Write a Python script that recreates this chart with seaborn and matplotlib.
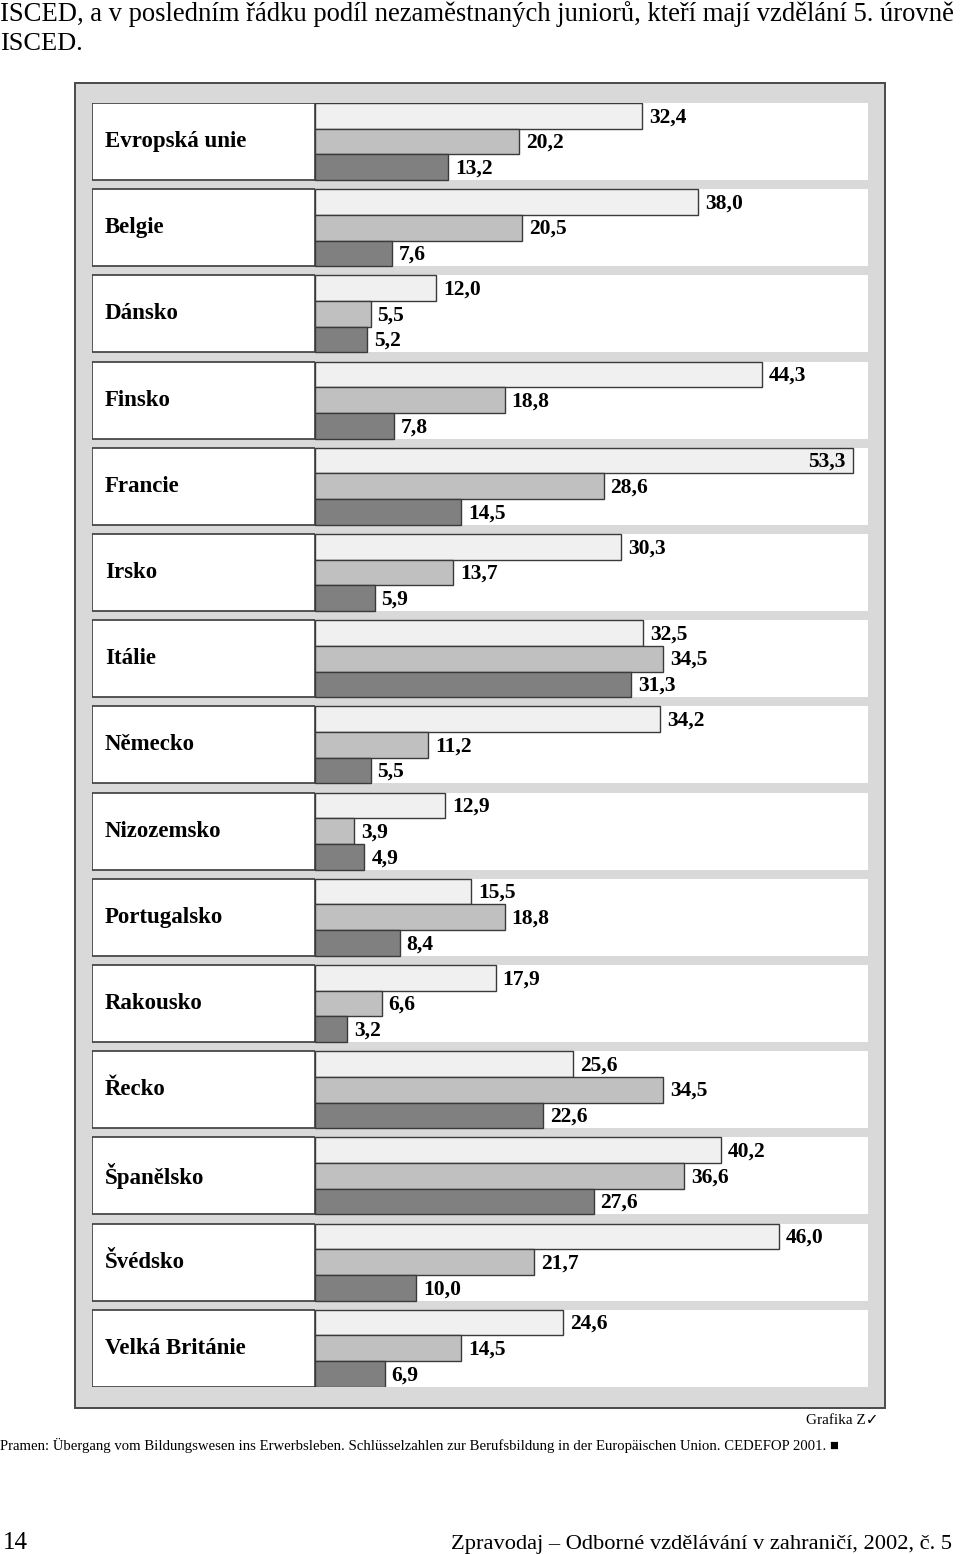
import matplotlib
matplotlib.use("Agg")
import matplotlib.pyplot as plt
from matplotlib.patches import Rectangle
import seaborn as sns
import pandas as pd

countries = ["Evropská unie", "Belgie", "Dánsko", "Finsko", "Francie", "Irsko",
             "Itálie", "Německo", "Nizozemsko", "Portugalsko", "Rakousko",
             "Řecko", "Španělsko", "Švédsko", "Velká Británie"]
series = ["ISCED 0-2", "ISCED 3", "ISCED 5"]
isced_02 = [32.4, 38.0, 12.0, 44.3, 53.3, 30.3, 32.5, 34.2, 12.9, 15.5, 17.9, 25.6, 40.2, 46.0, 24.6]
isced_3 = [20.2, 20.5, 5.5, 18.8, 28.6, 13.7, 34.5, 11.2, 3.9, 18.8, 6.6, 34.5, 36.6, 21.7, 14.5]
isced_5 = [13.2, 7.6, 5.2, 7.8, 14.5, 5.9, 31.3, 5.5, 4.9, 8.4, 3.2, 22.6, 27.6, 10.0, 6.9]

bar_colors = ["#f0f0f0", "#c0c0c0", "#808080"]
frame_gray = "#d9d9d9"
edge = "#3a3a3a"
SERIF = ["Liberation Serif", "DejaVu Serif", "DejaVu Sans"]

df = pd.DataFrame({
    "country": countries * 3,
    "series": [series[0]] * len(countries) + [series[1]] * len(countries) + [series[2]] * len(countries),
    "value": isced_02 + isced_3 + isced_5,
})

sns.set_theme(style="white")
plt.rcParams["font.family"] = SERIF

W, H = 960, 1554
fig = plt.figure(figsize=(W / 100, H / 100), dpi=100)
fig.patch.set_facecolor("white")

def fx(px):
    return px / W

def fy(py):
    return 1 - py / H

# outer gray frame
fig.add_artist(Rectangle((fx(75), fy(1408)), fx(885) - fx(75), fy(83) - fy(1408),
                         transform=fig.transFigure, facecolor=frame_gray,
                         edgecolor="#4a4a4a", linewidth=1.4, zorder=-5))

row_frac = 0.8933
ax_top, ax_bot = 103, 1386.8
ax = fig.add_axes([fx(315), fy(ax_bot), fx(868) - fx(315), (ax_bot - ax_top) / H])
axl = fig.add_axes([fx(92), fy(ax_bot), fx(315) - fx(92), (ax_bot - ax_top) / H], sharey=ax)

sns.barplot(data=df, y="country", x="value", hue="series", order=countries,
            hue_order=series, palette=bar_colors, orient="h", width=row_frac,
            dodge=True, edgecolor=edge, linewidth=1.0, saturation=1,
            legend=False, ax=ax, zorder=3)

n = len(countries)
ax.set_ylim(n - 1 + row_frac / 2, -row_frac / 2)
ax.set_xlim(0, 54.8)
ax.set_facecolor("none")
for s in ax.spines.values():
    s.set_visible(False)
ax.set_xticks([])
ax.tick_params(left=False, labelleft=False)
ax.set_xlabel("")
ax.set_ylabel("")
for i in range(n):
    ax.axhspan(i - row_frac / 2, i + row_frac / 2, color="white", zorder=0, lw=0)

# value labels
for cont in ax.containers:
    for p in cont.patches:
        v = p.get_width()
        yc = p.get_y() + p.get_height() / 2
        txt = f"{v:.1f}".replace(".", ",")
        if v > 50:
            ax.annotate(txt, xy=(v, yc), xytext=(-5, -1), textcoords="offset points",
                        ha="right", va="center", fontsize=15.5, fontweight="bold",
                        color="black", zorder=5)
        else:
            ax.annotate(txt, xy=(v, yc), xytext=(5, -1), textcoords="offset points",
                        ha="left", va="center", fontsize=15.5, fontweight="bold",
                        color="black", zorder=5)

# left label panels
axl.set_xlim(0, 1)
axl.set_facecolor("none")
for s in axl.spines.values():
    s.set_visible(False)
axl.set_xticks([])
axl.tick_params(left=False, labelleft=False, bottom=False)
axl.set_xlabel("")
axl.set_ylabel("")
for i, c in enumerate(countries):
    axl.add_patch(Rectangle((0, i - row_frac / 2), 1, row_frac, facecolor="white",
                            edgecolor=edge, linewidth=1.2, zorder=1))
    axl.text(13 / 223, i, c, ha="left", va="center", fontsize=16.5,
             fontweight="bold", color="black", zorder=2)

# page texts, sized to the reference widths
renderer = fig.canvas.get_renderer()

def fit_text(x, y, s, width_px, size, ha="left", **kw):
    t = fig.text(fx(x), fy(y), s, ha=ha, va="baseline", fontsize=size, color="black", **kw)
    w = t.get_window_extent(renderer=renderer).width
    t.set_fontsize(size * width_px / w)
    return t

fit_text(0, 21, "ISCED, a v posledním řádku podíl nezaměstnaných juniorů, kteří mají vzdělání 5. úrovně",
         955, 19)
fig.text(fx(0), fy(50), "ISCED.", ha="left", va="baseline", fontsize=19, color="black")
fig.text(fx(878), fy(1424), "Grafika Z✓", ha="right", va="baseline", fontsize=11,
         color="black", family=SERIF)
fit_text(0, 1450,
         "Pramen: Übergang vom Bildungswesen ins Erwerbsleben. Schlüsselzahlen zur Berufsbildung in der Europäischen Union. CEDEFOP 2001. ■",
         840, 11, family=SERIF)
fig.text(fx(3), fy(1549), "14", ha="left", va="baseline", fontsize=18, color="black")
fit_text(952, 1549, "Zpravodaj – Odborné vzdělávání v zahraničí, 2002, č. 5", 502, 16, ha="right")

fig.savefig("out.png", dpi=100, facecolor="white")
